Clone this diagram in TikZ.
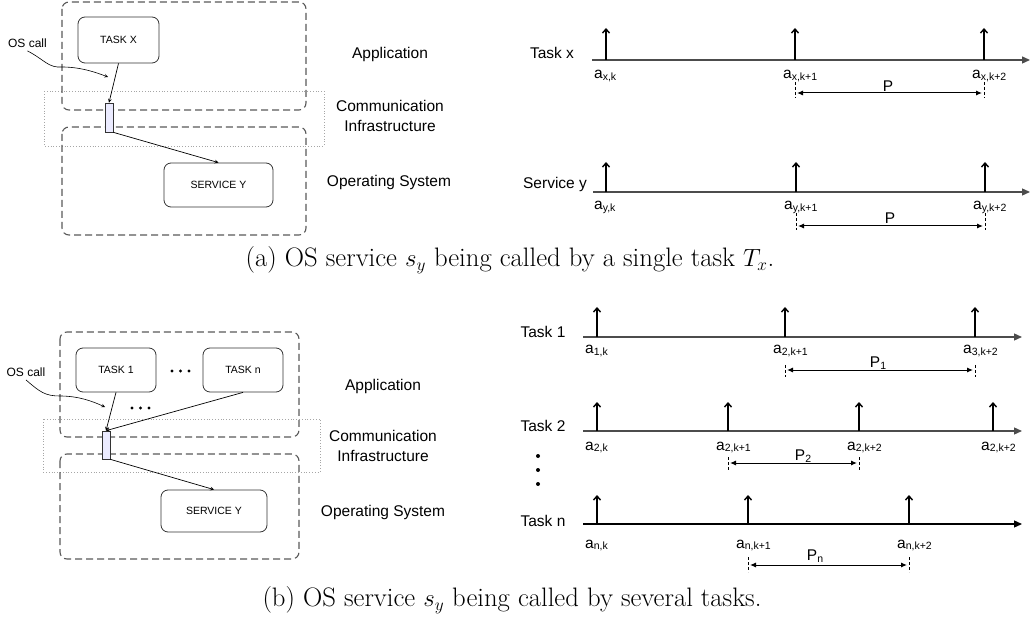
\documentclass[tikz,border=0pt]{standalone}
\usepackage{fontspec}
\newfontfamily\arial{Liberation Sans}
\usetikzlibrary{arrows,arrows.meta,positioning}

% arrival label a with lowered index
\newcommand{\arrlab}[1]{a\raisebox{-0.2ex}{\fontsize{10.5}{12}\selectfont #1}}

\begin{document}
\begin{tikzpicture}[x=1pt, y=-1pt, >=stealth,
    layer/.style={draw=black!65, line width=1.1pt, dash pattern=on 7pt off 4pt, rounded corners=7pt},
    commlayer/.style={draw=black!35, dotted, line width=0.8pt},
    taskbox/.style={draw=black!80, line width=0.8pt, rounded corners=7pt, inner sep=0pt,
        font=\arial\fontsize{10.5}{12}\selectfont},
    callbox/.style={draw=black!80, fill=blue!8, line width=0.7pt, minimum width=8pt, inner sep=0pt},
    lyrlab/.style={font=\arial\fontsize{15.5}{20}\selectfont, align=center},
    tllab/.style={font=\arial\fontsize{15.5}{18}\selectfont},
    alab/.style={font=\arial\fontsize{15.5}{18}\selectfont, anchor=base west, inner sep=0pt},
    plab/.style={font=\arial\fontsize{15.5}{18}\selectfont, anchor=base, inner sep=0pt},
    axis/.style={line width=1.3pt, -{Triangle[length=8pt, width=7pt]}},
    arrival/.style={line width=1.4pt, -{Straight Barb[length=4pt, width=7pt]}},
    tick/.style={densely dashed, line width=0.6pt},
    period/.style={line width=1pt, {Latex[length=6pt, width=5pt]}-{Latex[length=6pt, width=5pt]}},
    capt/.style={font=\fontsize{26.7}{30}\selectfont}]

    \useasboundingbox (0,0) rectangle (1033,617);

    % ---------- (a) single task ----------
    \draw[commlayer] (44,91) rectangle (324,146);
    \draw[layer] (62,2) rectangle (306,110);
    \draw[layer] (62,127) rectangle (306,235);

    \node[taskbox, minimum width=81pt, minimum height=46pt] (taskx) at (118.5,40) {TASK X};
    \node[taskbox, minimum width=109pt, minimum height=44pt] (servya) at (218.5,185) {SERVICE Y};
    \node[callbox, minimum height=29pt] (callx) at (109,117.5) {};

    \draw[->, line width=0.7pt] (taskx.south) -- (callx.north);
    \draw[->, line width=0.7pt] (callx.south east) -- (servya.north);

    \node[font=\arial\fontsize{12}{14}\selectfont] (oscalla) at (27.5,43) {OS call};
    \coordinate (oscallendx) at (108,77);
    \draw[->, line width=0.6pt] (oscalla.south) .. controls (45,60) and (48,68) .. (62,67)
        .. controls (80,67) and (95,72) .. (oscallendx);

    \node[lyrlab] (appa) at (390,54) {Application};
    \node[lyrlab] (comma) at (390,116) {Communication\\Infrastructure};
    \node[lyrlab] (osa) at (389,182) {Operating System};

    % timeline of task x
    \node[tllab] (tlx) at (552,53) {Task x};
    \coordinate (tx0) at (592,60);
    \coordinate (tx1) at (1030,60);
    \draw[axis, black!70] (tx0) -- (tx1);
    \foreach \n/\xx/\lab in {0/606/{x,k}, 1/795/{x,k+1}, 2/984/{x,k+2}} {
        \draw[arrival] (\xx,60) -- (\xx,28);
        \node[alab] (ax\n) at (\xx-12,78.5) {\arrlab{\lab}};
    }
    \draw[tick] (795,82) -- (795,98);
    \draw[tick] (984,82) -- (984,98);
    \coordinate (px0) at (797,93);
    \coordinate (px1) at (982,93);
    \draw[period] (px0) -- (px1);
    \node[plab] (px) at (888,92) {P};

    % timeline of service y
    \node[tllab] (tly) at (555,184) {Service y};
    \coordinate (ty0) at (593,192);
    \coordinate (ty1) at (1030,192);
    \draw[axis, black!70] (ty0) -- (ty1);
    \foreach \n/\xx/\lab in {0/606/{y,k}, 1/796/{y,k+1}, 2/985/{y,k+2}} {
        \draw[arrival] (\xx,192) -- (\xx,162);
        \node[alab] (ay\n) at (\xx-12,210) {\arrlab{\lab}};
    }
    \draw[tick] (796,213) -- (796,230);
    \draw[tick] (985,213) -- (985,230);
    \coordinate (py0) at (798,226);
    \coordinate (py1) at (983,226);
    \draw[period] (py0) -- (py1);
    \node[plab] (py) at (890,224) {P};

    \node[capt] (capa) at (510,260) {(a) OS service $s_y$ being called by a single task $T_x$.};

    % ---------- (b) several tasks ----------
    \draw[commlayer] (43,419) rectangle (320,472);
    \draw[layer] (60,332) rectangle (299,437);
    \draw[layer] (60,454) rectangle (299,559);

    \node[taskbox, minimum width=80pt, minimum height=44pt] (task1) at (116,370) {TASK 1};
    \node[taskbox, minimum width=80pt, minimum height=44pt] (taskn) at (243,370) {TASK n};
    \node[taskbox, minimum width=106pt, minimum height=42pt] (servyb) at (214,511) {SERVICE Y};
    \node[callbox, minimum height=28pt] (callb) at (106,445) {};

    \foreach \xx in {172,180.5,189} \fill (\xx,371) circle (1.6);
    \foreach \xx in {132,140.5,149} \fill (\xx,408) circle (1.6);

    \draw[->, line width=0.7pt] (task1.south) -- (callb.north);
    \draw[->, line width=0.7pt] (taskn.south) -- (callb.north);
    \draw[->, line width=0.7pt] (callb.south east) -- (servyb.north);

    \node[font=\arial\fontsize{12}{14}\selectfont] (oscallb) at (26,372) {OS call};
    \coordinate (oscallendb) at (105,407);
    \draw[->, line width=0.6pt] (oscallb.south) .. controls (40,392) and (45,396) .. (60,396)
        .. controls (78,396) and (92,401) .. (oscallendb);

    \node[lyrlab] (appb) at (383,386) {Application};
    \node[lyrlab] (commb) at (383,446) {Communication\\Infrastructure};
    \node[lyrlab] (osb) at (383,512) {Operating System};

    % timeline of task 1
    \node[tllab] (tl1) at (543,332) {Task 1};
    \coordinate (t10) at (583,337);
    \coordinate (t11) at (1022,337);
    \draw[axis, black!70] (t10) -- (t11);
    \foreach \n/\xx/\lab in {0/597/{1,k}, 1/785/{2,k+1}, 2/975/{3,k+2}} {
        \draw[arrival] (\xx,337) -- (\xx,307);
        \node[alab] (a1\n) at (\xx-12,354) {\arrlab{\lab}};
    }
    \draw[tick] (785,365) -- (785,377);
    \draw[tick] (975,365) -- (975,377);
    \coordinate (p10) at (787,370);
    \coordinate (p11) at (973,370);
    \draw[period] (p10) -- (p11);
    \node[plab] (p1) at (878,367) {P\raisebox{-0.35ex}{\fontsize{10.5}{12}\selectfont 1}};

    % timeline of task 2
    \node[tllab] (tl2) at (543,426) {Task 2};
    \coordinate (t20) at (583,431);
    \coordinate (t21) at (1022,431);
    \draw[axis, black!70] (t20) -- (t21);
    \foreach \n/\xx/\lab in {0/597/{2,k}, 1/728/{2,k+1}, 2/859/{2,k+2}, 3/993/{2,k+2}} {
        \draw[arrival] (\xx,431) -- (\xx,402);
        \node[alab] (a2\n) at (\xx-12,450) {\arrlab{\lab}};
    }
    \draw[tick] (728,457) -- (728,470);
    \draw[tick] (859,457) -- (859,470);
    \coordinate (p20) at (730,463);
    \coordinate (p21) at (857,463);
    \draw[period] (p20) -- (p21);
    \node[plab] (p2) at (803,460) {P\raisebox{-0.35ex}{\fontsize{10.5}{12}\selectfont 2}};

    \foreach \yy in {456,470,484} \fill (538,\yy) circle (2);

    % timeline of task n
    \node[tllab] (tln) at (543,521) {Task n};
    \coordinate (tn0) at (583,524);
    \coordinate (tn1) at (1022,524);
    \draw[axis] (tn0) -- (tn1);
    \foreach \n/\xx/\lab in {0/597/{n,k}, 1/748/{n,k+1}, 2/909/{n,k+2}} {
        \draw[arrival] (\xx,524) -- (\xx,495);
        \node[alab] (an\n) at (\xx-12,548) {\arrlab{\lab}};
    }
    \draw[tick] (748,557) -- (748,572);
    \draw[tick] (909,557) -- (909,572);
    \coordinate (pn0) at (750,565);
    \coordinate (pn1) at (907,565);
    \draw[period] (pn0) -- (pn1);
    \node[plab] (pn) at (815,560) {P\raisebox{-0.35ex}{\fontsize{10.5}{12}\selectfont n}};

    \node[capt] (capb) at (512,600) {(b) OS service $s_y$ being called by several tasks.};
\end{tikzpicture}
\end{document}
